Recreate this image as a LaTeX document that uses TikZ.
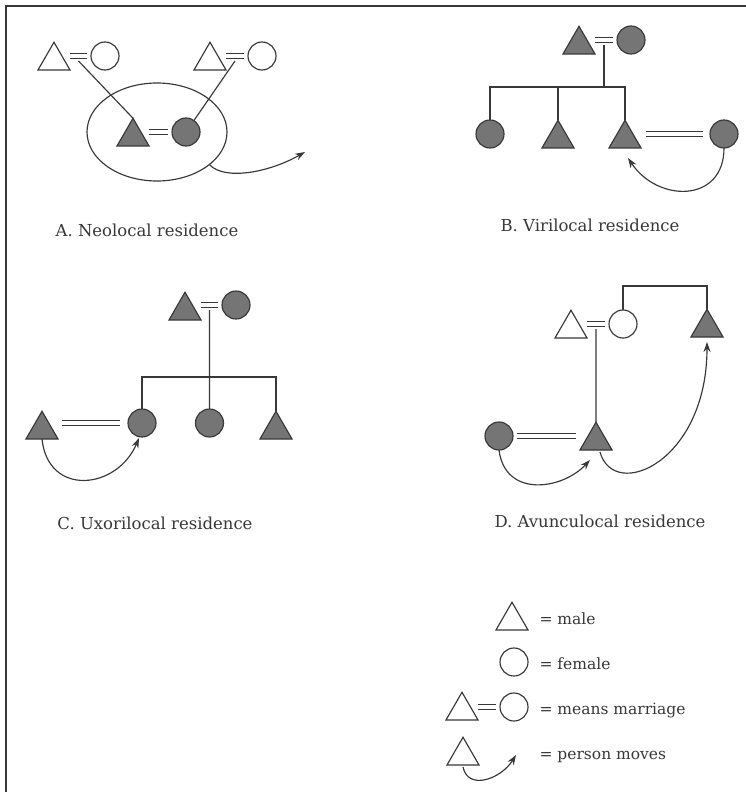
\documentclass[tikz,border=0pt]{standalone}
\usepackage{fontspec}
\setmainfont{DejaVu Serif}
\usetikzlibrary{shapes.geometric,arrows.meta}
\definecolor{ink}{gray}{0.22}
\definecolor{kinfill}{gray}{0.46}
\definecolor{txt}{gray}{0.22}
% marriage sign: two parallel strokes from #2 to #3, midpoint named (#1e)
\newcommand\wedding[3]{%
  \coordinate (#1p) at (#2); \coordinate (#1q) at (#3);
  \draw ([yshift=2.4pt]#1p) -- ([yshift=2.4pt]#1q)
        ([yshift=-2.4pt]#1p) -- ([yshift=-2.4pt]#1q);
  \path (#1p) -- coordinate (#1e) (#1q);}
\begin{document}
\begin{tikzpicture}[x=1pt,y=-1pt,line width=1.15pt,color=ink,
  male/.style={regular polygon, regular polygon sides=3, minimum size=37pt,
    inner sep=0pt, outer sep=0pt, draw=ink, fill=white},
  female/.style={circle, minimum size=28pt, inner sep=0pt, outer sep=0pt,
    draw=ink, fill=white},
  ego/.style={fill=kinfill},
  move/.style={draw=ink, -{Stealth[length=10pt,width=7pt]}},
  caption/.style={text=txt, font=\fontsize{16.5}{20}\selectfont, inner sep=0pt, anchor=base},
  key/.style={text=txt, font=\fontsize{15.5}{19}\selectfont, inner sep=0pt, anchor=base west}]
\useasboundingbox (0,0) rectangle (746,792);
\fill[white] (0,0) rectangle (746,792);
% frame
\draw[line width=2pt] (6,792) -- (6,6) -- (746,6);

% ---- A. Neolocal residence
\node[male, anchor=south] (a1m) at (54,70) {};
\node[female] (a1f) at (105,56) {};
\wedding{a1}{a1m.corner 3 |- a1f.west}{[xshift=-4pt]a1f.west}
\node[male, anchor=south] (a2m) at (210,70) {};
\node[female] (a2f) at (262,56) {};
\wedding{a2}{a2m.corner 3 |- a2f.west}{[xshift=-4pt]a2f.west}
\node[ellipse, draw=ink, minimum width=140pt, minimum height=98pt, inner sep=0pt] (aunit) at (157,132) {};
\node[male, ego, anchor=south] (a3m) at (133,146) {};
\node[female, ego] (a3f) at (186,132) {};
\wedding{a3}{a3m.corner 3 |- a3f.west}{[xshift=-4pt]a3f.west}
\draw ([yshift=-5pt]a1e) -- (a3m.north);
\draw ([yshift=-5pt]a2e) -- (a3f);
\coordinate (anew) at (305,152);
\draw[move] (aunit.-32) .. controls +(16,16) and +(-35,20) .. (anew);
\node[caption] (capA) at (147,236) {A. Neolocal residence};

% ---- B. Virilocal residence
\node[male, ego, anchor=south] (b1m) at (579,54) {};
\node[female, ego] (b1f) at (631,40) {};
\wedding{b1}{b1m.corner 3 |- b1f.west}{[xshift=-4pt]b1f.west}
\coordinate (bbar) at (b1e |- 0,87);
\draw ([yshift=-5pt]b1e) -- (bbar);
\node[female, ego] (b2f) at (490,134) {};
\node[male, ego, anchor=south] (b3m) at (558,148) {};
\node[male, ego, anchor=south] (b4m) at (625,148) {};
\node[female, ego] (b5f) at (724,134) {};
\draw (b2f.north) |- (bbar) -| (b4m.north);
\draw (b3m.north) -- (b3m.north |- bbar);
\wedding{b4}{[xshift=5pt]b4m.corner 3 |- b5f.west}{[xshift=-7pt]b5f.west}
\draw[move] (b5f.south) .. controls +(0,55) and +(30,45) .. ([shift={(3,10)}]b4m.south);
\node[caption] (capB) at (590,231) {B. Virilocal residence};

% ---- C. Uxorilocal residence
\node[male, ego, anchor=south] (c1m) at (185,320) {};
\node[female, ego] (c1f) at (236,305) {};
\wedding{c1}{c1m.corner 3 |- c1f.west}{[xshift=-4pt]c1f.west}
\node[male, ego, anchor=south] (c2m) at (42,439) {};
\node[female, ego] (c3f) at (142,423) {};
\node[female, ego] (c4f) at (209.5,423) {};
\node[male, ego, anchor=south] (c5m) at (276,439) {};
\coordinate (cbar) at (c4f |- 0,377);
\draw ([yshift=-5pt]c1e) -- (c4f.north);
\draw (c3f.north) |- (cbar) -| (c5m.north);
\wedding{c2}{[xshift=4pt]c2m.corner 3 |- c3f.west}{[xshift=-8pt]c3f.west}
\draw[move] (c2m.south) .. controls +(6,58) and +(-22,52) .. ([shift={(-3,1)}]c3f.south);
\node[caption] (capC) at (155,529) {C. Uxorilocal residence};

% ---- D. Avunculocal residence
\node[male, anchor=south] (d1m) at (571,338) {};
\node[female] (d1f) at (623,324) {};
\wedding{d1}{d1m.corner 3 |- d1f.west}{[xshift=-4pt]d1f.west}
\node[male, ego, anchor=south] (d2m) at (707,337) {};
\node[female, ego] (d4f) at (499,436) {};
\node[male, ego, anchor=south] (d3m) at (596,450) {};
\draw ([yshift=-5pt]d1e) -- (d3m.north);
\draw (d1f.north) |- (d2m.north |- 0,286) -- (d2m.north);
\wedding{d4}{[xshift=4pt]d4f.east}{[xshift=-4pt]d3m.corner 2 |- d4f.east}
\draw[move] (d4f.south) .. controls +(6,48) and +(-28,30) .. ([shift={(-6,10)}]d3m.south);
\draw[move] ([shift={(4,2)}]d3m.south) .. controls +(14,50) and +(0,120) .. ([yshift=-5pt]d2m.south);
\node[caption] (capD) at (600,527) {D. Avunculocal residence};

% ---- key
\node[male, anchor=south] (km) at (512,630) {};
\node[key] (kmt) at (539,624) {= male};
\node[female] (kf) at (514,662) {};
\node[key] (kft) at (539,669) {= female};
\node[male, anchor=south] (kmm) at (462,720) {};
\node[female] (kmf) at (514,707) {};
\wedding{km}{kmm.corner 3 |- kmf.west}{[xshift=-4pt]kmf.west}
\node[key] (kmmt) at (539,714) {= means marriage};
\node[male, anchor=south] (kpm) at (463,765) {};
\coordinate (kpe) at (516,755);
\draw[move] ([yshift=-2pt]kpm.south) .. controls +(5,24) and +(-15,24) .. (kpe);
\node[key] (kpmt) at (539,759) {= person moves};
\end{tikzpicture}
\end{document}
